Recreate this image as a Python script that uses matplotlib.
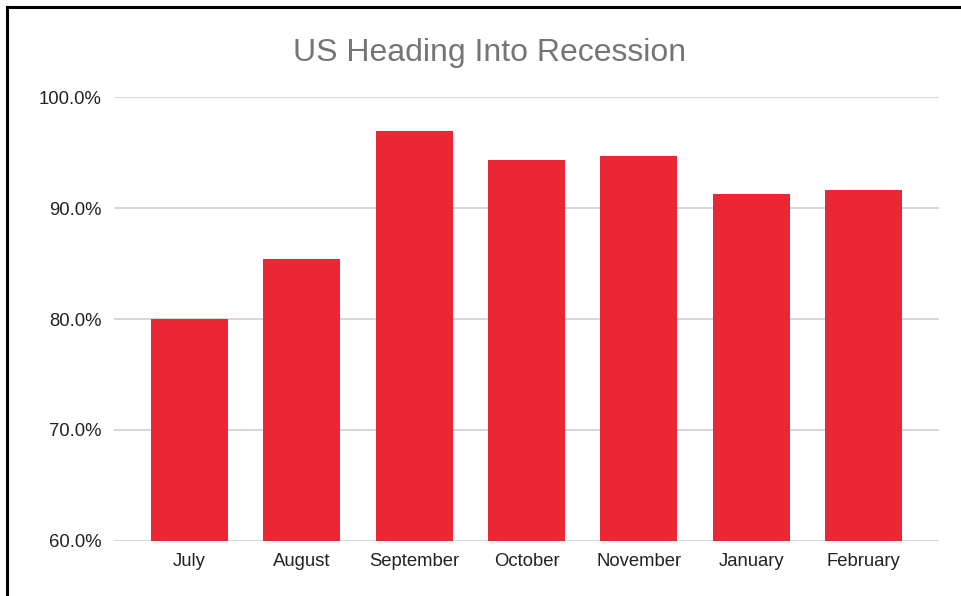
import matplotlib
matplotlib.use("Agg")
import matplotlib.pyplot as plt
from matplotlib.lines import Line2D
from matplotlib.ticker import FuncFormatter

months = ["July", "August", "September", "October", "November", "January", "February"]
recession_pct = [80.0, 85.4, 96.9, 94.3, 94.7, 91.3, 91.6]
y_ticks = [60, 70, 80, 90, 100]

plt.rcParams["font.family"] = ["Liberation Sans", "DejaVu Sans"]

fig = plt.figure(figsize=(9.61, 5.96), dpi=100)
ax = fig.add_axes([0.1186, 0.0923, 0.8585, 0.7449])

x = range(len(months))
ax.bar(x, recession_pct, width=0.685, bottom=0, color="#EA2733", zorder=3)

ax.set_ylim(60, 100)
ax.set_xlim(-0.672, len(months) - 1 + 0.672)
ax.set_yticks(y_ticks)
ax.yaxis.set_major_formatter(FuncFormatter(lambda v, _: f"{v:.1f}%"))
ax.set_xticks(list(x))
ax.set_xticklabels(months)

ax.grid(axis="y", color="#cccccc", linewidth=1.1, zorder=0)
ax.set_axisbelow(True)
for s in ax.spines.values():
    s.set_visible(False)
ax.tick_params(axis="both", length=0, labelsize=13.3, colors="#222222")
ax.tick_params(axis="y", pad=9)
ax.tick_params(axis="x", pad=9)

fig.suptitle("US Heading Into Recession", x=0.509, y=0.937, fontsize=23,
             color="#757575")

# outer frame on the left and top edges
fig.add_artist(Line2D([0.0078, 0.0078], [0, 0.989], color="black", linewidth=2.2,
                      transform=fig.transFigure))
fig.add_artist(Line2D([0.0078, 1.0], [0.989, 0.989], color="black", linewidth=2.2,
                      transform=fig.transFigure))

fig.savefig("out.png", dpi=100, facecolor="white")
